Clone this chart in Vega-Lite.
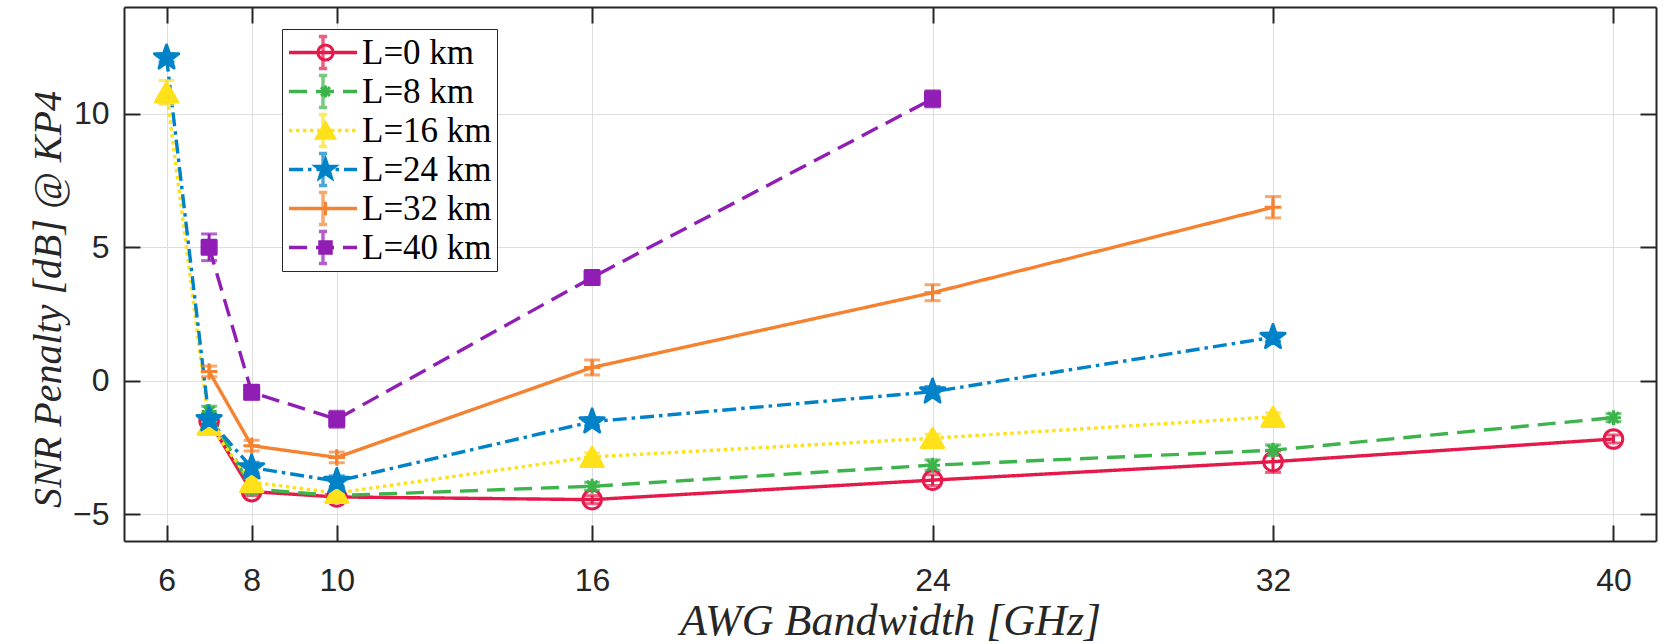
{
  "$schema": "https://vega.github.io/schema/vega-lite/v6.json",
  "width": 1532,
  "height": 534,
  "autosize": {"type": "none"},
  "padding": {"left": 124, "top": 7, "right": 9, "bottom": 103},
  "background": "white",
  "config": {"view": {"stroke": null}},
  "data": {"values": [
    {"L": "L=0 km", "bw": 7, "snr": -1.5, "lo": -1.65, "hi": -1.35},
    {"L": "L=0 km", "bw": 8, "snr": -4.15, "lo": -4.3, "hi": -4.0},
    {"L": "L=0 km", "bw": 10, "snr": -4.35, "lo": -4.5, "hi": -4.2},
    {"L": "L=0 km", "bw": 16, "snr": -4.45, "lo": -4.6, "hi": -4.3},
    {"L": "L=0 km", "bw": 24, "snr": -3.72, "lo": -3.92, "hi": -3.52},
    {"L": "L=0 km", "bw": 32, "snr": -3.03, "lo": -3.43, "hi": -2.63},
    {"L": "L=0 km", "bw": 40, "snr": -2.18, "lo": -2.33, "hi": -2.03},
    {"L": "L=8 km", "bw": 7, "snr": -1.15, "lo": -1.35, "hi": -0.95},
    {"L": "L=8 km", "bw": 8, "snr": -4.05, "lo": -4.2, "hi": -3.9},
    {"L": "L=8 km", "bw": 10, "snr": -4.3, "lo": -4.4, "hi": -4.2},
    {"L": "L=8 km", "bw": 16, "snr": -3.95, "lo": -4.1, "hi": -3.8},
    {"L": "L=8 km", "bw": 24, "snr": -3.16, "lo": -3.36, "hi": -2.96},
    {"L": "L=8 km", "bw": 32, "snr": -2.6, "lo": -2.8, "hi": -2.4},
    {"L": "L=8 km", "bw": 40, "snr": -1.38, "lo": -1.53, "hi": -1.23},
    {"L": "L=16 km", "bw": 6, "snr": 10.8, "lo": 10.35, "hi": 11.25},
    {"L": "L=16 km", "bw": 7, "snr": -1.65, "lo": -1.8, "hi": -1.5},
    {"L": "L=16 km", "bw": 8, "snr": -3.8, "lo": -3.95, "hi": -3.65},
    {"L": "L=16 km", "bw": 10, "snr": -4.2, "lo": -4.35, "hi": -4.05},
    {"L": "L=16 km", "bw": 16, "snr": -2.85, "lo": -3.0, "hi": -2.7},
    {"L": "L=16 km", "bw": 24, "snr": -2.15, "lo": -2.3, "hi": -2.0},
    {"L": "L=16 km", "bw": 32, "snr": -1.35, "lo": -1.5, "hi": -1.2},
    {"L": "L=24 km", "bw": 6, "snr": 12.1, "lo": 11.95, "hi": 12.25},
    {"L": "L=24 km", "bw": 7, "snr": -1.45, "lo": -1.65, "hi": -1.25},
    {"L": "L=24 km", "bw": 8, "snr": -3.25, "lo": -3.45, "hi": -3.05},
    {"L": "L=24 km", "bw": 10, "snr": -3.76, "lo": -3.96, "hi": -3.56},
    {"L": "L=24 km", "bw": 16, "snr": -1.53, "lo": -1.68, "hi": -1.38},
    {"L": "L=24 km", "bw": 24, "snr": -0.41, "lo": -0.61, "hi": -0.21},
    {"L": "L=24 km", "bw": 32, "snr": 1.63, "lo": 1.48, "hi": 1.78},
    {"L": "L=32 km", "bw": 7, "snr": 0.35, "lo": 0.15, "hi": 0.55},
    {"L": "L=32 km", "bw": 8, "snr": -2.43, "lo": -2.63, "hi": -2.23},
    {"L": "L=32 km", "bw": 10, "snr": -2.87, "lo": -3.07, "hi": -2.67},
    {"L": "L=32 km", "bw": 16, "snr": 0.5, "lo": 0.22, "hi": 0.78},
    {"L": "L=32 km", "bw": 24, "snr": 3.3, "lo": 3.0, "hi": 3.6},
    {"L": "L=32 km", "bw": 32, "snr": 6.5, "lo": 6.1, "hi": 6.9},
    {"L": "L=40 km", "bw": 7, "snr": 5.0, "lo": 4.5, "hi": 5.5},
    {"L": "L=40 km", "bw": 8, "snr": -0.43, "lo": -0.68, "hi": -0.18},
    {"L": "L=40 km", "bw": 10, "snr": -1.44, "lo": -1.74, "hi": -1.14},
    {"L": "L=40 km", "bw": 16, "snr": 3.87, "lo": 3.67, "hi": 4.07},
    {"L": "L=40 km", "bw": 24, "snr": 10.56, "lo": 10.26, "hi": 10.86}
  ]},
  "resolve": {
    "scale": {"color": "independent", "strokeDash": "independent", "shape": "independent", "fill": "independent"},
    "axis": {"x": "independent", "y": "independent"}
  },
  "layer": [
    {
      "mark": {"type": "line", "strokeWidth": 3.4},
      "encoding": {
        "x": {
          "field": "bw", "type": "quantitative",
          "scale": {"domain": [5, 41], "nice": false, "zero": false},
          "axis": {
            "orient": "bottom", "values": [6, 8, 10, 16, 24, 32, 40],
            "grid": true, "gridColor": "#dedede", "gridWidth": 1,
            "tickSize": -16, "tickWidth": 2, "tickColor": "#262626",
            "domainColor": "#262626", "domainWidth": 2,
            "labelFont": "Liberation Sans", "labelFontSize": 32, "labelColor": "#262626",
            "labelPadding": 40, "labelFlush": false,
            "title": "AWG Bandwidth [GHz]", "titleFont": "Liberation Serif",
            "titleFontStyle": "italic", "titleFontWeight": "normal", "titleFontSize": 44,
            "titleColor": "#262626", "titleX": 766, "titleY": 93,
            "titleAlign": "center", "titleBaseline": "alphabetic"
          }
        },
        "y": {
          "field": "snr", "type": "quantitative",
          "scale": {"domain": [-6, 14], "nice": false, "zero": false},
          "axis": {
            "orient": "left", "values": [-5, 0, 5, 10],
            "grid": true, "gridColor": "#dedede", "gridWidth": 1,
            "tickSize": -16, "tickWidth": 2, "tickColor": "#262626",
            "domainColor": "#262626", "domainWidth": 2,
            "labelFont": "Liberation Sans", "labelFontSize": 32, "labelColor": "#262626",
            "labelPadding": 31, "labelFlush": false,
            "title": "SNR Penalty [dB] @ KP4", "titleFont": "Liberation Serif",
            "titleFontStyle": "italic", "titleFontWeight": "normal", "titleFontSize": 40,
            "titleColor": "#262626", "titleX": -64, "titleY": 292, "titleAngle": 270,
            "titleAlign": "center", "titleBaseline": "alphabetic"
          }
        },
        "color": {
          "field": "L", "type": "nominal",
          "scale": {"domain": ["L=0 km", "L=8 km", "L=16 km", "L=24 km", "L=32 km", "L=40 km"],
                    "range": ["#e6194b", "#3cb44b", "#ffe119", "#0082c8", "#f58231", "#911eb4"]},
          "legend": {
            "orient": "none", "legendX": 158, "legendY": 22, "direction": "vertical",
            "title": null, "padding": 5, "fillColor": "white", "strokeColor": "#262626",
            "symbolType": "stroke", "symbolSize": 4624, "symbolStrokeWidth": 3.4,
            "clipHeight": 37, "rowPadding": 2,
            "labelFont": "Liberation Serif", "labelFontSize": 35, "labelColor": "black",
            "labelOffset": 3, "labelLimit": 400
          }
        },
        "strokeDash": {
          "field": "L", "type": "nominal",
          "scale": {"domain": ["L=0 km", "L=8 km", "L=16 km", "L=24 km", "L=32 km", "L=40 km"],
                    "range": [[1, 0], [18, 9], [3.5, 3.5], [14, 5, 3.5, 5], [1, 0], [18, 9]]},
          "legend": {
            "orient": "none", "legendX": 158, "legendY": 22, "direction": "vertical",
            "title": null, "padding": 5, "fillColor": "white", "strokeColor": "#262626",
            "symbolType": "stroke", "symbolSize": 4624, "symbolStrokeWidth": 3.4,
            "clipHeight": 37, "rowPadding": 2,
            "labelFont": "Liberation Serif", "labelFontSize": 35, "labelColor": "black",
            "labelOffset": 3, "labelLimit": 400
          }
        }
      }
    },
    {
      "mark": {"type": "errorbar", "ticks": true, "thickness": 3, "size": 16},
      "encoding": {
        "x": {"field": "bw", "type": "quantitative", "axis": null},
        "y": {"field": "lo", "type": "quantitative", "axis": null},
        "y2": {"field": "hi"},
        "color": {
          "field": "L", "type": "nominal",
          "scale": {"domain": ["L=0 km", "L=8 km", "L=16 km", "L=24 km", "L=32 km", "L=40 km"],
                    "range": ["#e6194b", "#3cb44b", "#ffe119", "#0082c8", "#f58231", "#911eb4"]},
          "legend": {
            "orient": "none", "legendX": 158, "legendY": 22, "direction": "vertical",
            "title": null, "padding": 5,
            "symbolType": "M0,-0.47L0,0.47M-0.12,-0.47L0.12,-0.47M-0.12,0.47L0.12,0.47",
            "symbolSize": 4624, "symbolStrokeWidth": 3.4, "symbolFillColor": "transparent",
            "clipHeight": 37, "rowPadding": 2,
            "labelFont": "Liberation Serif", "labelFontSize": 35, "labelExpr": "''",
            "labelOffset": 3, "labelLimit": 400
          }
        }
      }
    },
    {
      "mark": {"type": "point", "filled": false, "strokeWidth": 3, "strokeJoin": "round", "opacity": 1, "size": 900},
      "encoding": {
        "x": {
          "field": "bw", "type": "quantitative",
          "axis": {
            "orient": "top", "values": [6, 8, 10, 16, 24, 32, 40], "labels": false,
            "grid": false, "title": null, "tickSize": -16, "tickWidth": 2, "tickColor": "#262626",
            "domainColor": "#262626", "domainWidth": 2
          }
        },
        "y": {
          "field": "snr", "type": "quantitative",
          "axis": {
            "orient": "right", "values": [-5, 0, 5, 10], "labels": false,
            "grid": false, "title": null, "tickSize": -16, "tickWidth": 2, "tickColor": "#262626",
            "domainColor": "#262626", "domainWidth": 2
          }
        },
        "color": {
          "field": "L", "type": "nominal",
          "scale": {"domain": ["L=0 km", "L=8 km", "L=16 km", "L=24 km", "L=32 km", "L=40 km"],
                    "range": ["#e6194b", "#3cb44b", "#ffe119", "#0082c8", "#f58231", "#911eb4"]},
          "legend": {
            "orient": "none", "legendX": 158, "legendY": 22, "direction": "vertical",
            "title": null, "padding": 5,
            "symbolSize": 600, "symbolStrokeWidth": 3, "symbolOffset": 21,
            "clipHeight": 37, "rowPadding": 2,
            "labelFont": "Liberation Serif", "labelFontSize": 35, "labelExpr": "''",
            "labelOffset": 3, "labelLimit": 400,
            "encode": {"symbols": {"update": {"strokeJoin": {"value": "round"}}}}
          }
        },
        "fill": {
          "field": "L", "type": "nominal",
          "scale": {"domain": ["L=0 km", "L=8 km", "L=16 km", "L=24 km", "L=32 km", "L=40 km"],
                    "range": ["transparent", "transparent", "#ffe119", "#0082c8", "transparent", "#911eb4"]},
          "legend": {
            "orient": "none", "legendX": 158, "legendY": 22, "direction": "vertical",
            "title": null, "padding": 5,
            "symbolSize": 600, "symbolStrokeWidth": 3, "symbolOffset": 21,
            "clipHeight": 37, "rowPadding": 2,
            "labelFont": "Liberation Serif", "labelFontSize": 35, "labelExpr": "''",
            "labelOffset": 3, "labelLimit": 400,
            "encode": {"symbols": {"update": {"strokeJoin": {"value": "round"}}}}
          }
        },
        "shape": {
          "field": "L", "type": "nominal",
          "scale": {"domain": ["L=0 km", "L=8 km", "L=16 km", "L=24 km", "L=32 km", "L=40 km"],
                    "range": [
                      "M0.62,0A0.62,0.62,0,1,1,-0.62,0A0.62,0.62,0,1,1,0.62,0Z",
                      "M-0.5,0L0.5,0M0,-0.5L0,0.5M-0.36,-0.36L0.36,0.36M-0.36,0.36L0.36,-0.36",
                      "M0,-0.64L-0.74,0.64L0.74,0.64Z",
                      "M0,-0.85L0.2,-0.275L0.808,-0.263L0.323,0.105L0.5,0.688L0,0.34L-0.5,0.688L-0.323,0.105L-0.808,-0.263L-0.2,-0.275Z",
                      "M-0.55,0L0.55,0M0,-0.55L0,0.55",
                      "M-0.47,-0.47L0.47,-0.47L0.47,0.47L-0.47,0.47Z"
                    ]},
          "legend": {
            "orient": "none", "legendX": 158, "legendY": 22, "direction": "vertical",
            "title": null, "padding": 5,
            "symbolSize": 600, "symbolStrokeWidth": 3, "symbolOffset": 21,
            "clipHeight": 37, "rowPadding": 2,
            "labelFont": "Liberation Serif", "labelFontSize": 35, "labelExpr": "''",
            "labelOffset": 3, "labelLimit": 400,
            "encode": {"symbols": {"update": {"strokeJoin": {"value": "round"}}}}
          }
        }
      }
    }
  ]
}
